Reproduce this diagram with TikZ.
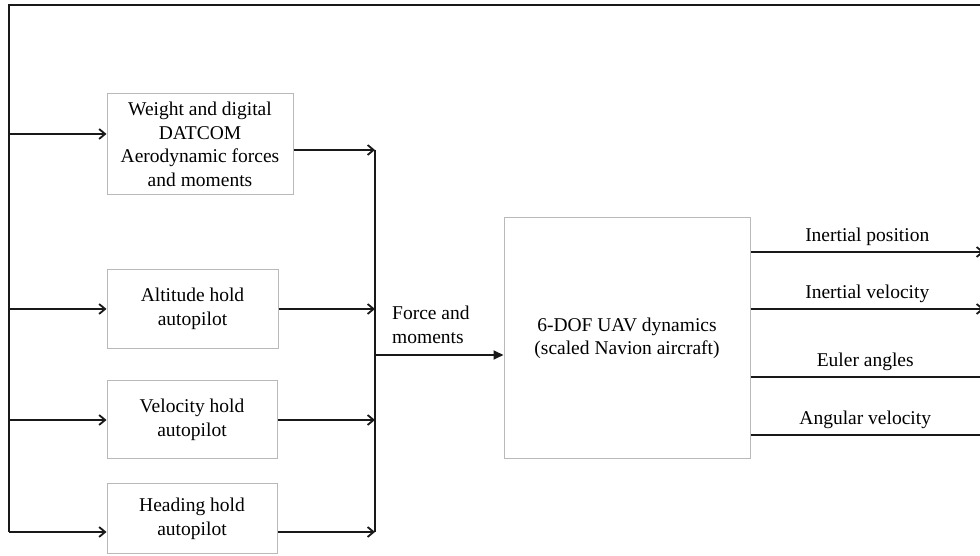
\documentclass[tikz,border=0pt]{standalone}
\usepackage{fontspec}
\setmainfont{Liberation Serif}
\usetikzlibrary{arrows.meta}

\tikzset{
	block/.style={shape=rectangle,draw=gray!55,line width=1pt,align=center,inner sep=0pt,font=\fontsize{19.5}{23.5}\selectfont},
	lbl/.style={font=\fontsize{19.5}{23.5}\selectfont},
	wire/.style={draw=black!90,line width=1.8pt},
	into/.style={wire,-{Straight Barb[length=6pt,width=10pt]}},
	feed/.style={wire,-{Triangle[length=10pt,width=9pt]}}
}

\begin{document}
\begin{tikzpicture}[x=1pt,y=1pt]
	\useasboundingbox (0,0) rectangle (980,556);

	\node[block,minimum width=186pt,minimum height=101pt] (weight) at (200,411.5) {Weight and digital\\DATCOM\\Aerodynamic forces\\and moments};
	\node[block,minimum width=171pt,minimum height=79pt]  (alt)    at (192.5,247) {Altitude hold\\autopilot};
	\node[block,minimum width=170pt,minimum height=78pt]  (vel)    at (192,136)   {Velocity hold\\autopilot};
	\node[block,minimum width=170pt,minimum height=70pt]  (head)   at (192,37)    {Heading hold\\autopilot};
	\node[block,minimum width=246pt,minimum height=241pt] (dyn)    at (627,217.5) {6-DOF UAV dynamics\\(scaled Navion aircraft)};
	\node[lbl,anchor=west,align=left,inner sep=0pt] (fm) at (392,231) {Force and\\moments};

	\coordinate (fbR)  at (980,551);
	\coordinate (fbL)  at (9,551);
	\coordinate (busB) at (9,24);
	\coordinate (sumT) at (375,406);
	\coordinate (sumB) at (375,24);
	\coordinate (sumF) at (375,201);
	\coordinate (o1)   at (984,304);
	\coordinate (o2)   at (984,247);
	\coordinate (o3)   at (980,179);
	\coordinate (o4)   at (980,121);

	% feedback and input bus
	\draw[wire] (fbR) -- (fbL) -- (busB);
	\path (fbL |- 0,422) edge[into] ([yshift=10.5pt]weight.west);
	\path (fbL |- alt.west) edge[into] (alt.west);
	\path (fbL |- vel.west) edge[into] (vel.west);
	\path (busB) edge[into] ([yshift=-13pt]head.west);

	% summing bus
	\draw[wire] (sumT) -- (sumB);
	\path ([yshift=-5.5pt]weight.east) edge[into] (sumT);
	\path (alt.east) edge[into] (sumT |- alt.east);
	\path (vel.east) edge[into] (sumT |- vel.east);
	\path ([yshift=-13pt]head.east) edge[into] (sumB);
	\path (sumF) edge[feed] (dyn.west |- sumF);

	% outputs
	\path ([yshift=86.5pt]dyn.east)  edge[into] node[lbl,above=2pt]{Inertial position} (o1);
	\path ([yshift=29.5pt]dyn.east)  edge[into] node[lbl,above=2pt]{Inertial velocity} (o2);
	\path ([yshift=-38.5pt]dyn.east) edge[wire] node[lbl,above=2pt]{Euler angles} (o3);
	\path ([yshift=-96.5pt]dyn.east) edge[wire] node[lbl,above=2pt]{Angular velocity} (o4);

\end{tikzpicture}
\end{document}
